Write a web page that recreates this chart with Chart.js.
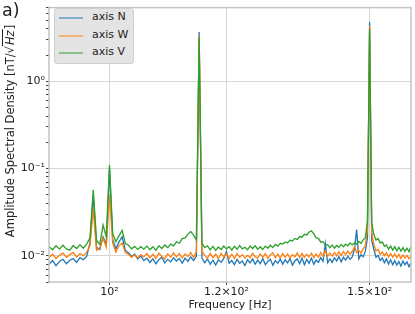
<!DOCTYPE html>
<html>
<head>
<meta charset="utf-8">
<script src="https://cdn.jsdelivr.net/npm/chart.js@4.4.1/dist/chart.umd.min.js"></script>
<style>
  body { margin: 0; background: #fff; }
  #wrap { position: relative; width: 415px; height: 314px; font-family: 'DejaVu Sans', sans-serif; color: #222; }
  #grafico { position: absolute; left: 0; top: 0; }
  #rotulo { position: absolute; left: 2px; top: 0px; font-size: 17.5px; }
  #titulo-y { position: absolute; left: 10px; top: 131px; transform: translate(-50%, -50%) rotate(-90deg); white-space: nowrap; font-size: 11.5px; }
  #titulo-y .raiz { border-top: 1px solid #222; font-style: italic; padding: 0 1px; }
  #legenda { position: absolute; left: 54px; top: 8px; width: 78px; height: 54px; background: #e4e4e4; border: 1px solid #d0d0d0; border-radius: 3px; font-size: 11px; }
  #legenda .item { position: absolute; left: 4px; height: 12px; line-height: 12px; }
  #legenda .linha { position: absolute; left: 0; top: 5px; width: 24px; height: 2px; opacity: .5; }
  #legenda .texto { position: absolute; left: 33px; top: -1px; white-space: nowrap; }
</style>
</head>
<body>
<div id="wrap">
  <canvas id="grafico" width="415" height="314"></canvas>
  <div id="rotulo">a)</div>
  <div id="titulo-y">Amplitude Spectral Density [nT/√<span class="raiz">Hz</span>]</div>
  <div id="legenda"></div>
</div>
<script>
// frequências (Hz) e densidade espectral de cada eixo
const frequencias = [
  91, 91.5, 92, 92.5, 93, 93.5, 94, 94.5, 95, 95.5,
  96, 96.5, 97, 97.5, 98, 98.5, 99, 99.5, 100, 100.5,
  101, 101.5, 102, 102.5, 103, 103.5, 104, 104.5, 105, 105.5,
  106, 106.5, 107, 107.5, 108, 108.5, 109, 109.5, 110, 110.5,
  111, 111.5, 112, 112.5, 113, 113.5, 114, 114.5, 115, 115.5,
  116, 116.5, 117, 117.5, 118, 118.5, 119, 119.5, 120, 120.5,
  121, 121.5, 122, 122.5, 123, 123.5, 124, 124.5, 125, 125.5,
  126, 126.5, 127, 127.5, 128, 128.5, 129, 129.5, 130, 130.5,
  131, 131.5, 132, 132.5, 133, 133.5, 134, 134.5, 135, 135.5,
  136, 136.5, 137, 137.5, 138, 138.5, 139, 139.5, 140, 140.5,
  141, 141.5, 142, 142.5, 143, 143.5, 144, 144.5, 145, 145.5,
  146, 146.5, 147, 147.5, 148, 148.5, 149, 149.5, 150, 150.5,
  151, 151.5, 152, 152.5, 153, 153.5, 154, 154.5, 155, 155.5,
  156, 156.5, 157, 157.5, 158, 158.5, 159, 159.5, 160
];

const eixoN = [
  0.0080, 0.0088, 0.0077, 0.0086, 0.0091, 0.0081, 0.0089, 0.0093, 0.0084, 0.0095,
  0.0090, 0.0098, 0.0140, 0.050, 0.0125, 0.0118, 0.0165, 0.0135, 0.100, 0.0155,
  0.0120, 0.0145, 0.0165, 0.0115, 0.0108, 0.0098, 0.0104, 0.0092, 0.0099, 0.0088,
  0.0094, 0.0084, 0.0092, 0.0081, 0.0090, 0.0096, 0.0083, 0.0091, 0.0085, 0.0095,
  0.0087, 0.0093, 0.0082, 0.0094, 0.0086, 0.0097, 0.0088, 0.0099, 3.67, 0.0094,
  0.0083, 0.0092, 0.0080, 0.0089, 0.0078, 0.0090, 0.0084, 0.0093, 0.0112, 0.0082,
  0.0088, 0.0079, 0.0091, 0.0082, 0.0087, 0.0077, 0.0090, 0.0083, 0.0092, 0.0080,
  0.0089, 0.0081, 0.0093, 0.0079, 0.0086, 0.0091, 0.0078, 0.0088, 0.0082, 0.0092,
  0.0080, 0.0090, 0.0083, 0.0093, 0.0078, 0.0087, 0.0092, 0.0081, 0.0094, 0.0079,
  0.0091, 0.0082, 0.0094, 0.0080, 0.0089, 0.0084, 0.0095, 0.0086, 0.0138, 0.0083,
  0.0092, 0.0084, 0.0095, 0.0087, 0.0098, 0.0085, 0.0096, 0.0089, 0.0099, 0.0091,
  0.0097, 0.0118, 0.0200, 0.0092, 0.0103, 0.0097, 0.0112, 0.0160, 4.8, 0.0150,
  0.0118, 0.0096, 0.0101, 0.0088, 0.0094, 0.0083, 0.0092, 0.0080, 0.0090, 0.0079,
  0.0088, 0.0078, 0.0086, 0.0076, 0.0087, 0.0079, 0.0085, 0.0075, 0.0083
];

const eixoW = [
  0.0095, 0.0104, 0.0093, 0.0101, 0.0107, 0.0096, 0.0103, 0.0109, 0.0097, 0.0106,
  0.0100, 0.0110, 0.0130, 0.034, 0.0115, 0.0122, 0.0160, 0.0125, 0.050, 0.0140,
  0.0110, 0.0130, 0.0140, 0.0108, 0.0104, 0.0096, 0.0102, 0.0094, 0.0103, 0.0097,
  0.0106, 0.0095, 0.0104, 0.0093, 0.0107, 0.0098, 0.0092, 0.0105, 0.0096, 0.0108,
  0.0097, 0.0106, 0.0094, 0.0105, 0.0098, 0.0109, 0.0096, 0.0111, 3.3, 0.0112,
  0.0101, 0.0094, 0.0106, 0.0095, 0.0104, 0.0092, 0.0107, 0.0097, 0.0105, 0.0094,
  0.0104, 0.0093, 0.0106, 0.0096, 0.0103, 0.0094, 0.0101, 0.0095, 0.0107, 0.0097,
  0.0094, 0.0105, 0.0096, 0.0106, 0.0093, 0.0102, 0.0108, 0.0095, 0.0104, 0.0094,
  0.0106, 0.0096, 0.0105, 0.0094, 0.0103, 0.0097, 0.0108, 0.0095, 0.0106, 0.0096,
  0.0104, 0.0097, 0.0107, 0.0095, 0.0105, 0.0096, 0.0109, 0.0098, 0.0114, 0.0099,
  0.0107, 0.0099, 0.0109, 0.0100, 0.0111, 0.0101, 0.0112, 0.0103, 0.0113, 0.0104,
  0.0112, 0.0128, 0.0109, 0.0115, 0.0108, 0.0120, 0.0130, 0.0200, 4.3, 0.0180,
  0.0135, 0.0114, 0.0118, 0.0104, 0.0110, 0.0100, 0.0108, 0.0097, 0.0106, 0.0096,
  0.0105, 0.0095, 0.0104, 0.0093, 0.0102, 0.0094, 0.0101, 0.0092, 0.0099
];

const eixoV = [
  0.0128, 0.0117, 0.0130, 0.0119, 0.0132, 0.0120, 0.0116, 0.0131, 0.0121, 0.0134,
  0.0122, 0.0136, 0.0160, 0.057, 0.0150, 0.0135, 0.0225, 0.0165, 0.110, 0.0180,
  0.0145, 0.0170, 0.0195, 0.0138, 0.0132, 0.0120, 0.0128, 0.0118, 0.0127, 0.0119,
  0.0129, 0.0117, 0.0127, 0.0115, 0.0130, 0.0121, 0.0133, 0.0124, 0.0136, 0.0130,
  0.0144, 0.0139, 0.0157, 0.0160, 0.0176, 0.0190, 0.0172, 0.0152, 3.22, 0.0140,
  0.0124, 0.0130, 0.0117, 0.0128, 0.0115, 0.0126, 0.0118, 0.0129, 0.0120, 0.0127,
  0.0116, 0.0128, 0.0119, 0.0131, 0.0120, 0.0125, 0.0117, 0.0129, 0.0121, 0.0130,
  0.0119, 0.0127, 0.0118, 0.0129, 0.0122, 0.0132, 0.0124, 0.0135, 0.0129, 0.0139,
  0.0136, 0.0144, 0.0140, 0.0151, 0.0148, 0.0158, 0.0154, 0.0166, 0.0163, 0.0176,
  0.0173, 0.0187, 0.0193, 0.0178, 0.0160, 0.0158, 0.0143, 0.0145, 0.0132, 0.0134,
  0.0124, 0.0133, 0.0122, 0.0131, 0.0125, 0.0135, 0.0127, 0.0136, 0.0130, 0.0140,
  0.0133, 0.0141, 0.0136, 0.0146, 0.0139, 0.0152, 0.0160, 0.0250, 3.97, 0.0240,
  0.0175, 0.0152, 0.0158, 0.0140, 0.0144, 0.0128, 0.0133, 0.0119, 0.0129, 0.0116,
  0.0127, 0.0114, 0.0125, 0.0113, 0.0124, 0.0112, 0.0122, 0.0111, 0.0128
];

const nomesSeries = ['axis N', 'axis W', 'axis V'];
const coresSeries = ['#1f77b4', '#ff7f0e', '#2ca02c'];

const ticksX = [100, 120, 150];
const rotulosX = ['10²', '1.2×10²', '1.5×10²'];
const ticksY = [0.01, 0.1, 1];
const rotulosY = ['10⁻²', '10⁻¹', '10⁰'];
const ticksYMenores = [0.005, 0.006, 0.007, 0.008, 0.009, 0.02, 0.03, 0.04, 0.05, 0.06, 0.07, 0.08, 0.09,
  0.2, 0.3, 0.4, 0.5, 0.6, 0.7, 0.8, 0.9, 2, 3, 4, 5, 6, 7];

const FONTE = { family: "'DejaVu Sans', sans-serif", size: 11 };

const legenda = document.getElementById('legenda');
nomesSeries.forEach((nome, i) => {
  const item = document.createElement('div');
  item.className = 'item';
  item.style.top = (3 + i * 17.5) + 'px';
  item.innerHTML = `<span class="linha" style="background:${coresSeries[i]}"></span><span class="texto">${nome}</span>`;
  legenda.appendChild(item);
});

function pontos(valores) {
  return frequencias.map((f, i) => ({ x: f, y: valores[i] }));
}

const ehMaiorY = (v) => ticksY.some((t) => Math.abs(t - v) / t < 1e-6);

// moldura cinza em volta da área do gráfico (os quatro lados)
const moldura = {
  id: 'moldura',
  afterDatasetsDraw(chart) {
    const { ctx, chartArea: a } = chart;
    ctx.save();
    ctx.strokeStyle = '#c4c4c4';
    ctx.lineWidth = 1.5;
    ctx.strokeRect(a.left, a.top, a.right - a.left, a.bottom - a.top);
    ctx.restore();
  }
};

new Chart(document.getElementById('grafico'), {
  type: 'line',
  data: {
    datasets: [
      { label: nomesSeries[0], data: pontos(eixoN), borderColor: coresSeries[0], order: 3 },
      { label: nomesSeries[1], data: pontos(eixoW), borderColor: coresSeries[1], order: 2 },
      { label: nomesSeries[2], data: pontos(eixoV), borderColor: coresSeries[2], order: 1 }
    ]
  },
  options: {
    responsive: false,
    animation: false,
    layout: { padding: { left: 0, right: 4, top: 3, bottom: 0 } },
    elements: {
      line: { borderWidth: 1.3, tension: 0, fill: false },
      point: { radius: 0 }
    },
    plugins: { legend: { display: false }, tooltip: { enabled: false } },
    scales: {
      x: {
        type: 'logarithmic',
        min: 91,
        max: 160,
        afterBuildTicks: (s) => { s.ticks = ticksX.map((v) => ({ value: v })); },
        afterFit: (s) => { s.height = 32; },
        ticks: {
          font: FONTE, color: '#222', padding: 1, maxRotation: 0, autoSkip: false,
          callback: (v) => rotulosX[ticksX.indexOf(v)] ?? ''
        },
        grid: { color: '#d6d6d6', tickColor: '#444', tickLength: 3 },
        border: { display: false },
        title: { display: true, text: 'Frequency [Hz]', font: { family: FONTE.family, size: 11 }, color: '#222', padding: { top: 0, bottom: 2 } }
      },
      y: {
        type: 'logarithmic',
        min: 0.005,
        max: 7,
        afterBuildTicks: (s) => { s.ticks = [...ticksY, ...ticksYMenores].sort((a, b) => a - b).map((v) => ({ value: v })); },
        afterFit: (s) => { s.width = 49; },
        ticks: {
          font: FONTE, color: '#222', padding: 1, autoSkip: false,
          callback: (v) => ehMaiorY(v) ? rotulosY[ticksY.findIndex((t) => Math.abs(t - v) / t < 1e-6)] : ''
        },
        grid: {
          color: (c) => ehMaiorY(c.tick.value) ? '#d6d6d6' : 'rgba(0,0,0,0)',
          tickColor: '#444',
          tickLength: 3
        },
        border: { display: false }
      }
    }
  },
  plugins: [moldura]
});
</script>
</body>
</html>
